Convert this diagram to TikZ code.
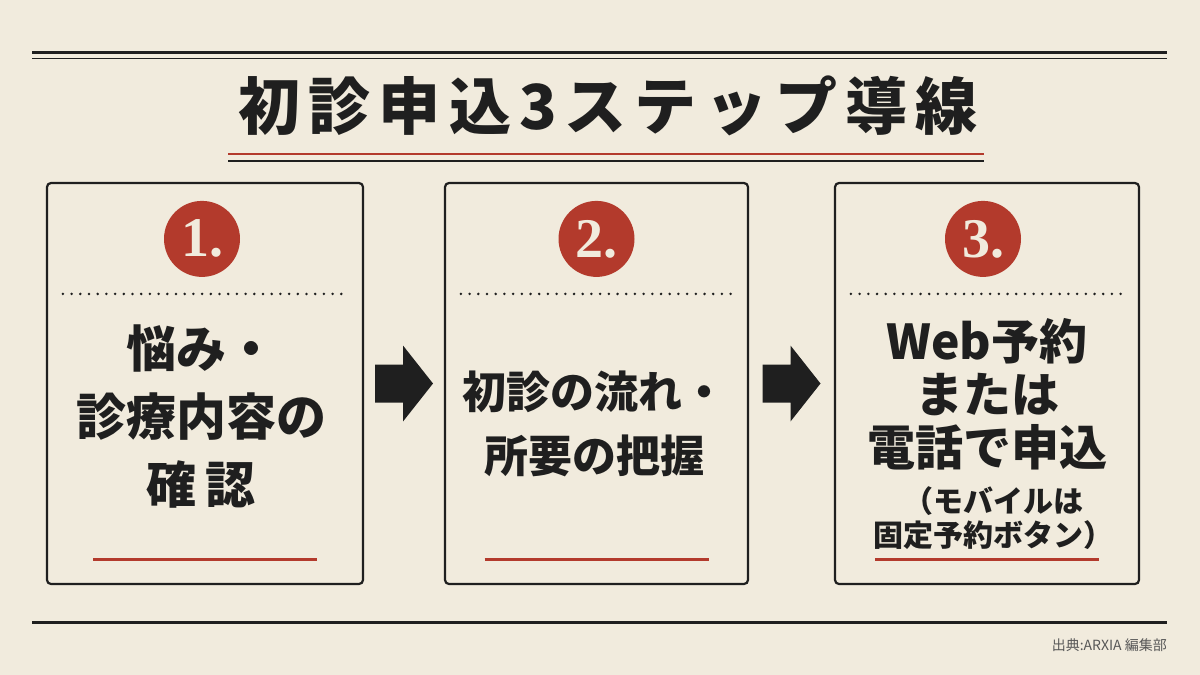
\documentclass[tikz,border=0pt]{standalone}
\usepackage{fontspec}
\setmainfont{Noto Sans CJK JP}
\newfontfamily\numfont{Liberation Serif}
\usetikzlibrary{positioning,calc}

\definecolor{paper}{HTML}{F1EBDD}
\definecolor{ink}{HTML}{1F1F1F}
\definecolor{accent}{HTML}{B33A2C}

\begin{document}
\begin{tikzpicture}[
  x=1pt, y=-1pt,
  stepbox/.style={draw=ink, line width=2.2pt, rounded corners=4pt,
    minimum height=401pt, inner sep=0pt},
  badge/.style={circle, fill=accent, minimum size=76pt, inner sep=0pt,
    text=paper, font=\numfont\bfseries\fontsize{56}{56}\selectfont},
  dotline/.style={ink, line width=2.8pt, line cap=round, dash pattern=on 0pt off 8.7pt},
  redline/.style={accent, line width=2.8pt},
  steptext/.style={text=ink, align=center, inner sep=0pt},
  flowarrow/.style={fill=ink},
]
  % Paper
  \fill[paper] (0,0) rectangle (1200,675);
  \useasboundingbox (0,0) rectangle (1200,675);

  % Header rules
  \draw[ink, line width=3pt] (32,52.5) -- (1167,52.5);
  \draw[ink, line width=1.5pt] (32,58.5) -- (1167,58.5);

  % Title
  \node[text=ink, inner sep=0pt, font=\bfseries\fontsize{62}{62}\selectfont\addfontfeatures{LetterSpace=13}]
    (title) at (608,106) {初診申込3ステップ導線};
  \draw[accent, line width=2.6pt] (228,154) -- (984,154);
  \draw[ink, line width=1.3pt] (228,161) -- (984,161);

  % Step boxes
  \node[stepbox, minimum width=316pt] (box1) at (205,383.5) {};
  \node[stepbox, minimum width=303pt] (box2) at (596.5,383.5) {};
  \node[stepbox, minimum width=304pt] (box3) at (987,383.5) {};

  % Numbers
  \node[badge] (badge1) at ($(box1.north)+(-3,57)$) {1.};
  \node[badge] (badge2) at ($(box2.north)+(0,57)$) {2.};
  \node[badge] (badge3) at ($(box3.north)+(-4,57)$) {3.};

  % Dotted separators
  \foreach \b in {box1,box2,box3}
    \draw[dotline] ($(\b.north west)+(17,112)$) -- ($(\b.north east)+(-17,112)$);

  % Texts
  \node[steptext, font=\bfseries\fontsize{50}{68}\selectfont]
    (text1) at ($(box1.north)+(-4,235)$) {悩み・\\診療内容の\\確\hspace{0.2em}認};
  \node[steptext, font=\bfseries\fontsize{44}{64}\selectfont]
    (text2) at ($(box2.north)+(-2,242)$) {初診の流れ・\\所要の把握};
  \node[steptext, font=\bfseries\fontsize{48}{53}\selectfont]
    (text3) at ($(box3.north)+(0,212)$) {Web予約\\または\\電話で申込};
  \node[steptext, font=\bfseries\fontsize{30}{34}\selectfont]
    (note3) at ($(box3.north)+(6,336)$) {（モバイルは\\固定予約ボタン）};

  % Red underlines
  \foreach \b in {box1,box2,box3}
    \draw[redline] ($(\b.south)+(-112,-26)$) -- ($(\b.south)+(112,-26)$);

  % Flow arrows
  \foreach \l/\r in {box1/box2,box2/box3} {
    \coordinate (mid) at ($(\l.east)!0.5!(\r.west)$);
    \fill[flowarrow] ($(mid)+(-29,-19)$) -- ++(28,0) -- ++(0,-19) -- ++(30,38)
      -- ++(-30,38) -- ++(0,-19) -- ++(-28,0) -- cycle;
  }

  % Footer
  \draw[ink, line width=3pt] (32,622) -- (1167,622);
  \node[anchor=base east, text=ink!75, inner sep=0pt, font=\fontsize{14}{14}\selectfont]
    (source) at (1167,650) {出典:ARXIA 編集部};
\end{tikzpicture}
\end{document}
